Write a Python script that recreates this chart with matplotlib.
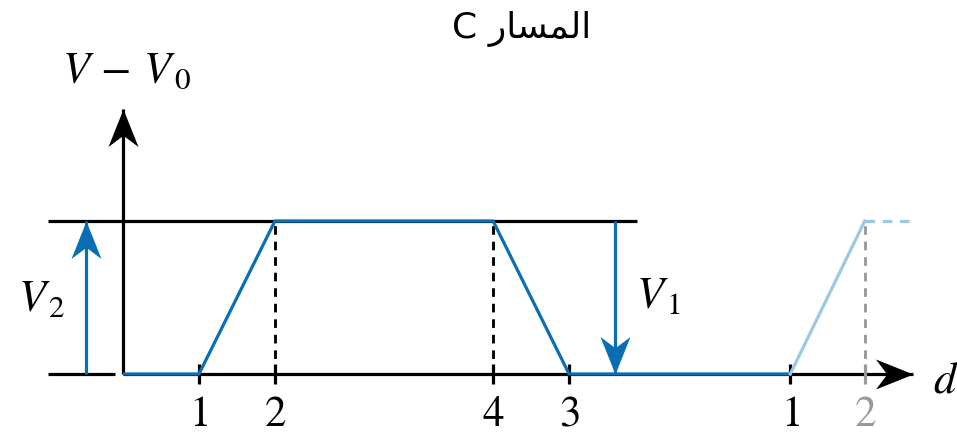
#!/usr/bin/env python
# -*- coding: utf8 -*-
import matplotlib
matplotlib.use('Agg')
import matplotlib.pyplot as plt
from matplotlib.path import Path
from matplotlib.transforms import Affine2D

plt.rcParams['mathtext.fontset'] = 'stix'

# tick positions along d (in units of the first ramp width) and their labels
tick_pos = [1.0, 2.0, 4.87, 5.87, 8.78, 9.76]
tick_labels = ['1', '2', '4', '3', '1', '2']
tick_colors = ['black', 'black', 'black', 'black', 'black', '#999999']

# potential along the path (dark part, then the repeated start in light blue)
path_x = [0.0, 1.0, 2.0, 4.87, 5.87, 8.78]
path_v = [0.0, 0.0, 1.0, 1.0, 0.0, 0.0]
repeat_x = [8.78, 9.76]
repeat_v = [0.0, 1.0]
repeat_dash_x = [9.76, 10.42]
repeat_dash_v = [1.0, 1.0]

level_top = 1.0
v2_x = -0.49
v1_x = 6.47

title = 'C \uFEAD\uFE8E\uFEB4\uFEE4\uFEDF\uFE8D'

blue = '#0A6EB4'
light_blue = '#9CC8E4'
lw = 2.3

# stealth style arrow head, tip at the origin pointing along +x
_head = Path([(0, 0), (-1, 0.4), (-0.7, 0), (-1, -0.4), (0, 0)],
             [Path.MOVETO, Path.LINETO, Path.LINETO, Path.LINETO,
              Path.CLOSEPOLY])


def head(angle):
    return _head.transformed(Affine2D().rotate_deg(angle))


def arrow(ax, x0, y0, x1, y1, color, size=54):
    ax.plot([x0, x1], [y0, y1], color=color, lw=lw, solid_capstyle='butt')
    if x1 > x0:
        ang = 0
    elif y1 > y0:
        ang = 90
    else:
        ang = -90
    ax.plot([x1], [y1], marker=head(ang), markersize=size, color=color,
            markeredgewidth=0, zorder=5)


def main():
    fig = plt.figure(figsize=(9.57, 4.35), dpi=100)
    ax = fig.add_axes([0, 0, 1, 1])
    ax.set_xlim(-1.618, 10.974)
    ax.set_ylim(-0.392, 2.451)
    ax.axis('off')

    # axes
    ax.plot([-0.99, -0.1], [0, 0], color='black', lw=lw, solid_capstyle='butt')
    arrow(ax, 0, 0, 10.40, 0, 'black')
    arrow(ax, 0, 0, 0, 1.73, 'black')
    ax.plot([-0.99, 6.76], [level_top, level_top], color='black', lw=lw,
            solid_capstyle='butt')

    # ticks and labels
    for x, lab, c in zip(tick_pos, tick_labels, tick_colors):
        ax.plot([x, x], [-0.065, 0.065], color=c, lw=lw, solid_capstyle='butt')
        ax.text(x, -0.33, '$%s$' % lab, color=c, fontsize=31,
                ha='center', va='baseline')

    # dashed guides
    for x in tick_pos[1:3]:
        ax.plot([x, x], [0, level_top], color='black', lw=lw * 0.9,
                ls=(0, (3, 2.4)))
    ax.plot([tick_pos[5], tick_pos[5]], [0, level_top], color='#999999',
            lw=lw * 0.9, ls=(0, (3, 2.4)))

    # path
    ax.plot(path_x, path_v, color=blue, lw=lw, solid_capstyle='butt')
    ax.plot(repeat_x, repeat_v, color=light_blue, lw=lw)
    ax.plot(repeat_dash_x, repeat_dash_v, color=light_blue, lw=lw,
            ls=(0, (3, 2.4)))

    # voltage arrows
    arrow(ax, v2_x, 0, v2_x, level_top, blue)
    arrow(ax, v1_x, level_top, v1_x, 0, blue)

    ax.text(-1.07, 0.5, r'$V_{\,2}$', fontsize=32, ha='center', va='center')
    ax.text(7.05, 0.52, r'$V_{\,1}$', fontsize=32, ha='center', va='center')
    ax.text(10.82, -0.03, '$d$', fontsize=32, ha='center', va='center')
    ax.text(0.05, 1.99, r'$V\,-\,V_{\,0}$', fontsize=32, ha='center',
            va='center')

    ax.text(5.25, 2.26, title, fontsize=26, ha='center', va='center',
            family=['DejaVu Sans'])

    fig.savefig('out.png', dpi=100)


if __name__ == "__main__":
    main()
